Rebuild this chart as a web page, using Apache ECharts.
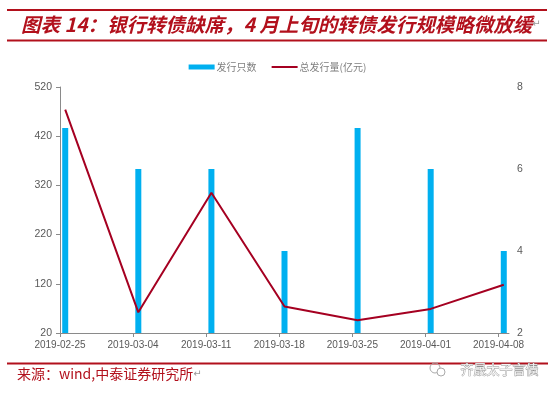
<!DOCTYPE html>
<html>
<head>
<meta charset="utf-8">
<script src="https://cdn.jsdelivr.net/npm/echarts@6/dist/echarts.min.js"></script>
<style>
html,body{margin:0;padding:0;background:#fff;}
#chart{width:555px;height:395px;}
</style>
</head>
<body>
<div id="chart"></div>
<script>
// ---- data ----
const titleText = '图表 14：银行转债缺席，4 月上旬的转债发行规模略微放缓';
const sourceText = '来源：wind,中泰证券研究所';
const watermarkText = '齐晟太子言债';
const dates = ['2019-02-25','2019-03-04','2019-03-11','2019-03-18','2019-03-25','2019-04-01','2019-04-08'];
const tickLabels = ['2019-02-25','2019-03-04','2019-03-11','2019-03-18','2019-03-25','2019-04-01','2019-04-08'];
const issueCount = [7, 6, 6, 4, 7, 6, 4];            // 发行只数 (right axis)
const issueAmount = [474, 62, 305, 74, 46, 69, 118]; // 总发行量(亿元) (left axis)
const seriesNames = ['发行只数', '总发行量(亿元)'];

// ---- helpers ----
const DAY = 86400000;
function parse(s){ const p = s.split('-').map(Number); return Date.UTC(p[0], p[1]-1, p[2]); }
const origin = parse(dates[0]);
function dayOf(s){ return (parse(s) - origin) / DAY; }
function fmt(d){
  const t = new Date(origin + d * DAY);
  const mm = String(t.getUTCMonth()+1).padStart(2,'0');
  const dd = String(t.getUTCDate()).padStart(2,'0');
  return t.getUTCFullYear() + '-' + mm + '-' + dd;
}
const MID_DAY = 0.5; // marks sit in the middle of their day, as on a date axis
const barData = dates.map((d,i) => [dayOf(d) + MID_DAY, issueCount[i]]);
const lineData = dates.map((d,i) => [dayOf(d) + MID_DAY, issueAmount[i]]);
const tickVals = tickLabels.map(dayOf);

const red = '#B2101C';
const axisGray = '#8a8a8a';
const labelGray = '#595959';

const chart = echarts.init(document.getElementById('chart'), null, {renderer:'canvas'});
chart.setOption({
  animation: false,
  backgroundColor: '#fff',
  textStyle: { fontFamily: 'Liberation Sans, Arial, sans-serif' },
  legend: {
    top: 57,
    left: 'center',
    itemWidth: 26,
    itemHeight: 5,
    itemGap: 15,
    symbolKeepAspect: true,
    data: [
      { name: seriesNames[0], icon: 'rect' },
      { name: seriesNames[1], icon: 'path://M0,0H26V2H0Z' }
    ],
    textStyle: { fontSize: 10, color: '#7f7f7f', fontFamily: 'Noto Sans CJK SC', padding: [0,0,0,-3] }
  },
  grid: { left: 60, right: 46, top: 87, bottom: 62 },
  xAxis: {
    type: 'value',
    min: 0,
    max: dayOf(dates[dates.length-1]) + 1,
    splitLine: { show: false },
    axisLine: { lineStyle: { color: axisGray, width: 1 } },
    axisTick: { show: true, length: 4, customValues: tickVals, lineStyle: { color: axisGray } },
    axisLabel: {
      customValues: tickVals,
      formatter: v => fmt(v),
      color: labelGray, fontSize: 10, margin: 7
    }
  },
  yAxis: [
    {
      type: 'value', min: 20, max: 520, interval: 100,
      splitLine: { show: false },
      axisLine: { show: true, lineStyle: { color: axisGray } },
      axisTick: { show: true, length: 4, lineStyle: { color: axisGray } },
      axisLabel: { color: labelGray, fontSize: 10.5, margin: 8 }
    },
    {
      type: 'value', min: 2, max: 8, interval: 2,
      splitLine: { show: false },
      axisLine: { show: false },
      axisTick: { show: false },
      axisLabel: { color: labelGray, fontSize: 10.5, margin: 8 }
    }
  ],
  series: [
    {
      name: seriesNames[0], type: 'bar', yAxisIndex: 1,
      data: barData, barWidth: 6,
      itemStyle: { color: '#00B0F0' }, z: 2
    },
    {
      name: seriesNames[1], type: 'line', yAxisIndex: 0,
      data: lineData, symbol: 'none',
      lineStyle: { color: '#A50021', width: 2 },
      itemStyle: { color: '#A50021' }, z: 3
    }
  ],
  graphic: [
    { type: 'rect', shape: { x: 7, y: 9, width: 540, height: 2 }, style: { fill: red } },
    { type: 'rect', shape: { x: 7, y: 39.5, width: 540, height: 2 }, style: { fill: red } },
    { type: 'text', left: 21, top: 15, style: {
        text: '{t|' + titleText + '}{m|↵}',
        rich: {
          t: { fontSize: 19.5, fontWeight: 'bold', fontStyle: 'italic', fill: red, fontFamily: 'Noto Sans CJK SC' },
          m: { fontSize: 10, fill: '#999', fontFamily: 'DejaVu Sans' }
        }
    } },
    { type: 'rect', shape: { x: 7, y: 362.5, width: 541, height: 2 }, style: { fill: red } },
    { type: 'text', left: 17, top: 367, style: {
        text: '{t|' + sourceText + '}{m|↵}',
        rich: {
          t: { fontSize: 14, fill: red, fontFamily: 'Noto Sans CJK SC' },
          m: { fontSize: 10, fill: '#999', fontFamily: 'DejaVu Sans' }
        }
    } },
    { type: 'circle', shape: { cx: 435, cy: 368, r: 5 }, style: { fill: 'none', stroke: '#aaa', lineWidth: 1 } },
    { type: 'circle', shape: { cx: 441, cy: 372, r: 4 }, style: { fill: '#fff', stroke: '#aaa', lineWidth: 1 } },
    { type: 'text', left: 460, top: 362, style: {
        text: watermarkText, fontSize: 13, fill: '#f4f4f4', stroke: '#8f8f8f', lineWidth: 0.8,
        fontFamily: 'Noto Sans CJK SC'
    } }
  ]
});
</script>
</body>
</html>
